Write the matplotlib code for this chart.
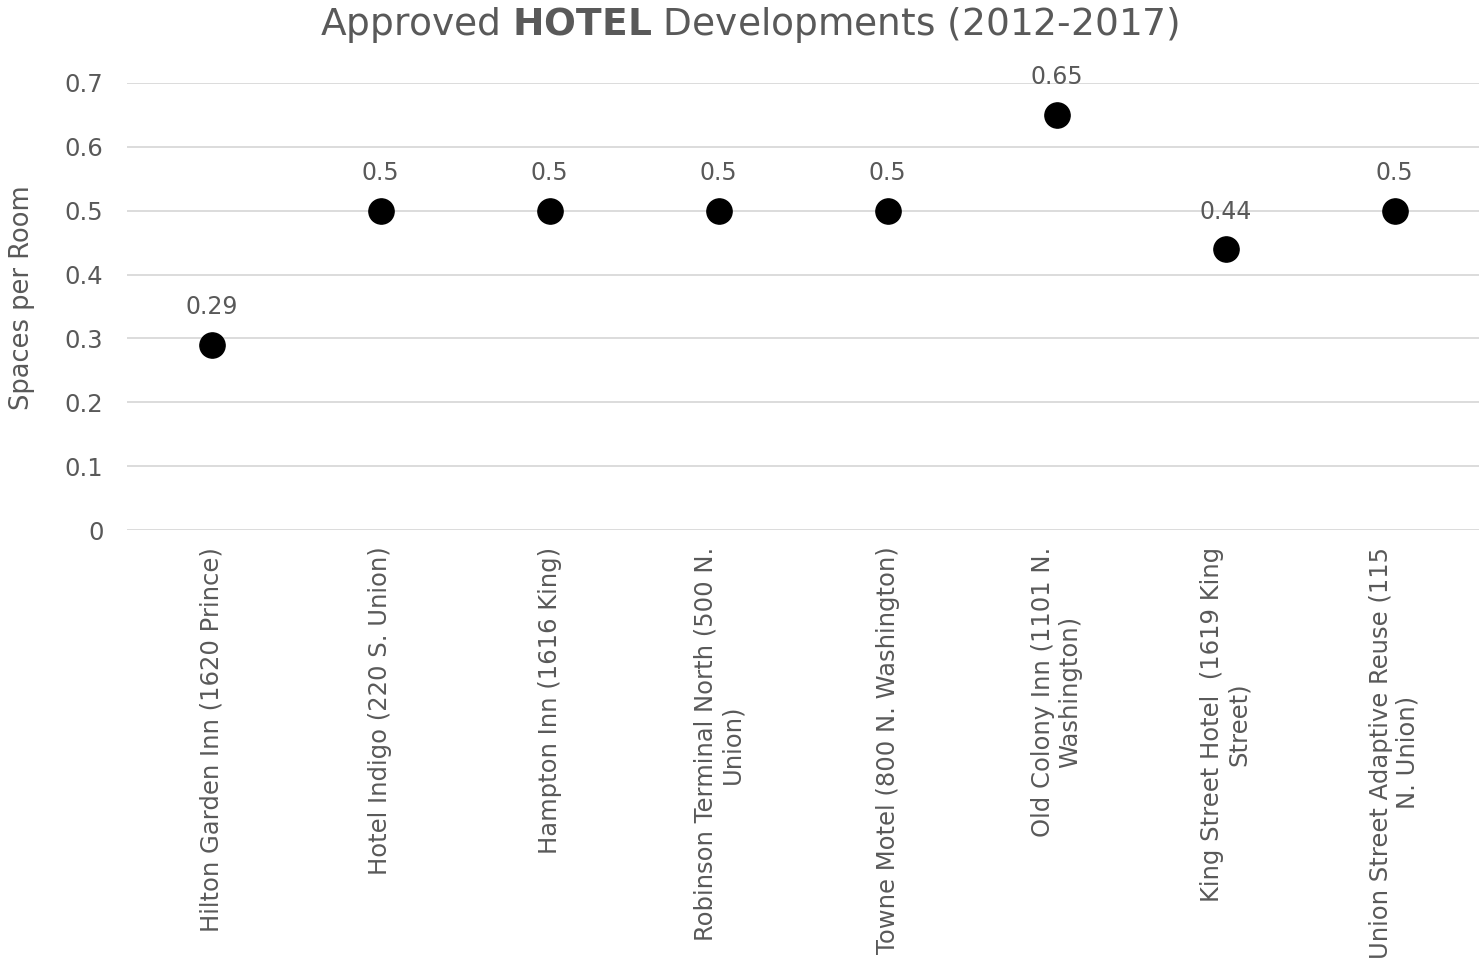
import matplotlib.pyplot as plt

# data
hotels = ['Hilton Garden Inn (1620 Prince)',
          'Hotel Indigo (220 S. Union)',
          'Hampton Inn (1616 King)',
          'Robinson Terminal North (500 N.\nUnion)',
          'Towne Motel (800 N. Washington)',
          'Old Colony Inn (1101 N.\nWashington)',
          'King Street Hotel  (1619 King\nStreet)',
          'Union Street Adaptive Reuse (115\nN. Union)']
spaces = [0.29, 0.5, 0.5, 0.5, 0.5, 0.65, 0.44, 0.5]
yticks = [0, 0.1, 0.2, 0.3, 0.4, 0.5, 0.6, 0.7]
ytick_labels = ['0', '0.1', '0.2', '0.3', '0.4', '0.5', '0.6', '0.7']

txt = '#595959'
plt.rcParams['font.family'] = ['DejaVu Sans']
plt.rcParams['mathtext.fontset'] = 'dejavusans'

fig = plt.figure(figsize=(14.79, 9.66), dpi=100)
ax = fig.add_axes([127 / 1479, (966 - 530) / 966, 1 - 127 / 1479, 447 / 966])

x = list(range(len(hotels)))
ax.scatter(x, spaces, s=330, color='black', zorder=3, clip_on=False)
for xi, v in zip(x, spaces):
    ax.annotate(f'{v:g}', (xi, v), xytext=(0, 27), textcoords='offset points',
                ha='center', va='center', fontsize=17, color=txt)

ax.set_xlim(-0.5, len(hotels) - 0.5)
ax.set_ylim(0, 0.7)
ax.set_yticks(yticks)
ax.set_yticklabels(ytick_labels)
ax.set_xticks(x)
ax.set_xticklabels(hotels, rotation=90, ha='center', va='top',
                   multialignment='center', linespacing=1.15)
ax.tick_params(axis='both', length=0, labelsize=17.5, labelcolor=txt)
ax.tick_params(axis='x', pad=12)
ax.tick_params(axis='y', pad=17)
ax.grid(axis='y', color='#d9d9d9', linewidth=1.3)
ax.set_axisbelow(True)
for sp in ax.spines.values():
    sp.set_visible(False)

fig.text(22 / 1479, 1 - 298 / 966, 'Spaces per Room', rotation=90,
         ha='center', va='center', fontsize=18.5, color=txt)
fig.text(750 / 1479, 1 - 25 / 966, r'Approved $\bf{HOTEL}$ Developments (2012-2017)',
         ha='center', va='center', fontsize=27, color=txt)

fig.savefig('out.png', dpi=100)
